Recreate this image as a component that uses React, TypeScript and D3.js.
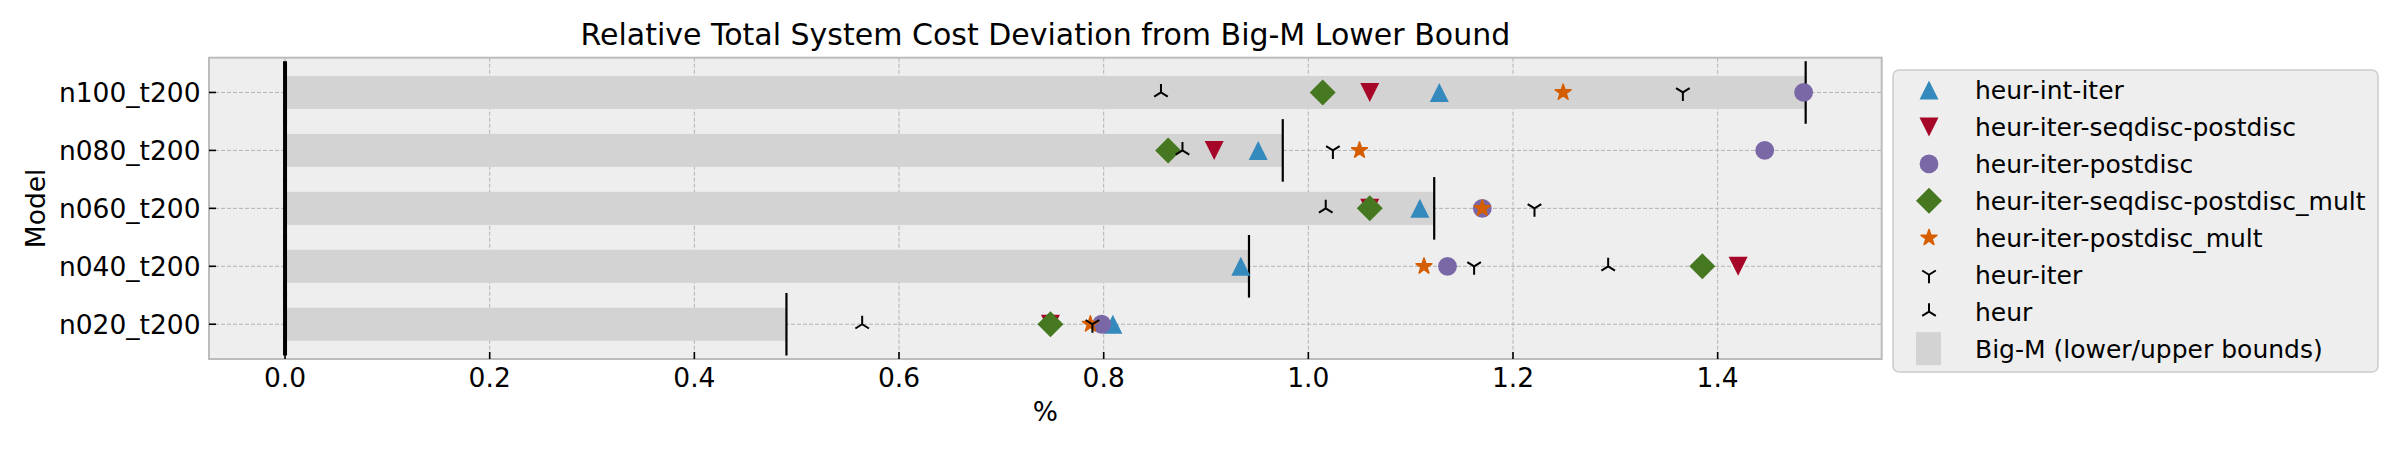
import React, { useEffect, useRef } from 'react';
import * as d3 from 'd3';

// rows, bottom to top
const models = ['n020_t200', 'n040_t200', 'n060_t200', 'n080_t200', 'n100_t200'];

// Big-M bounds (%)
const lowerBound = [0, 0, 0, 0, 0];
const upperBound = [0.49, 0.942, 1.123, 0.975, 1.486];

// heuristic deviations (%)
const heurIntIter = [0.809, 0.934, 1.109, 0.951, 1.128];
const heurIterSeqdiscPostdisc = [0.748, 1.42, 1.06, 0.908, 1.06];
const heurIterPostdisc = [0.798, 1.136, 1.17, 1.446, 1.484];
const heurIterSeqdiscPostdiscMult = [0.748, 1.385, 1.06, 0.863, 1.014];
const heurIterPostdiscMult = [0.787, 1.113, 1.17, 1.05, 1.249];
const heurIter = [0.789, 1.162, 1.221, 1.024, 1.366];
const heur = [0.564, 1.293, 1.017, 0.877, 0.856];

const xTicks = [0, 0.2, 0.4, 0.6, 0.8, 1.0, 1.2, 1.4];

const series = [
  { label: 'heur-int-iter', values: heurIntIter, marker: 'triUp', color: '#348ABD' },
  { label: 'heur-iter-seqdisc-postdisc', values: heurIterSeqdiscPostdisc, marker: 'triDown', color: '#A60628' },
  { label: 'heur-iter-postdisc', values: heurIterPostdisc, marker: 'circle', color: '#7A68A6' },
  { label: 'heur-iter-seqdisc-postdisc_mult', values: heurIterSeqdiscPostdiscMult, marker: 'diamond', color: '#467821' },
  { label: 'heur-iter-postdisc_mult', values: heurIterPostdiscMult, marker: 'star', color: '#D55E00' },
  { label: 'heur-iter', values: heurIter, marker: 'y', color: '#000000' },
  { label: 'heur', values: heur, marker: 'lambda', color: '#000000' },
];

const FONT = 'DejaVu Sans, sans-serif';

// marker outlines centred on (0, 0)
function markerPath(kind: string): string {
  const s = 9.5;
  if (kind === 'triUp') return `M0,${-s}L${-s},${s}L${s},${s}Z`;
  if (kind === 'triDown') return `M0,${s}L${-s},${-s}L${s},${-s}Z`;
  if (kind === 'circle') {
    const p = d3.path();
    p.arc(0, 0, 9.4, 0, 2 * Math.PI);
    return p.toString();
  }
  if (kind === 'diamond') {
    const d = 13;
    return `M0,${-d}L${d},0L0,${d}L${-d},0Z`;
  }
  if (kind === 'star') {
    const R = 8.3;
    const r = R * 0.381966;
    const pts: string[] = [];
    for (let i = 0; i < 10; i++) {
      const a = -Math.PI / 2 + (i * Math.PI) / 5;
      const rad = i % 2 === 0 ? R : r;
      pts.push(`${(rad * Math.cos(a)).toFixed(2)},${(rad * Math.sin(a)).toFixed(2)}`);
    }
    return 'M' + pts.join('L') + 'Z';
  }
  const t = 8.5;
  if (kind === 'y') return `M0,0L0,${t}M0,0L${0.8 * t},${-0.5 * t}M0,0L${-0.8 * t},${-0.5 * t}`;
  // lambda-like tri_up
  return `M0,0L0,${-t}M0,0L${0.8 * t},${0.5 * t}M0,0L${-0.8 * t},${0.5 * t}`;
}

function drawMarker(g: any, kind: string, color: string) {
  const stroked = kind === 'y' || kind === 'lambda';
  g.append('path')
    .attr('d', markerPath(kind))
    .attr('fill', stroked ? 'none' : color)
    .attr('stroke', color)
    .attr('stroke-linejoin', 'round')
    .attr('stroke-width', stroked ? 2 : kind === 'star' ? 1.6 : 0);
}

const App = () => {
  const ref = useRef<SVGSVGElement>(null);

  useEffect(() => {
    const svg = d3.select(ref.current);
    svg.selectAll('*').remove();

    const left = 209;
    const right = 1881.7;
    const top = 57.7;
    const bottom = 359;

    const allValues = [...upperBound, ...lowerBound, ...series.flatMap((s) => s.values)];
    const xMax = d3.max(allValues) as number;
    const xMin = d3.min(allValues) as number;
    const pad = (xMax - xMin) * 0.05;

    const x = d3.scaleLinear().domain([xMin - pad, xMax + pad]).range([left, right]);
    const y = d3.scaleLinear().domain([-0.6, models.length - 0.4]).range([bottom, top]);
    const rowH = y(0) - y(1);

    // axes background
    svg.append('rect')
      .attr('x', left).attr('y', top)
      .attr('width', right - left).attr('height', bottom - top)
      .attr('fill', '#eeeeee');

    // grid
    const grid = svg.append('g').attr('stroke', '#b2b2b2').attr('stroke-width', 1).attr('stroke-dasharray', '4,2');
    grid.selectAll('.gx').data(xTicks).enter().append('line')
      .attr('x1', (d) => x(d)).attr('x2', (d) => x(d))
      .attr('y1', top).attr('y2', bottom);
    grid.selectAll('.gy').data(models).enter().append('line')
      .attr('x1', left).attr('x2', right)
      .attr('y1', (_d, i) => y(i)).attr('y2', (_d, i) => y(i));

    // Big-M bars
    svg.append('g').selectAll('rect').data(models).enter().append('rect')
      .attr('x', (_d, i) => x(lowerBound[i]))
      .attr('width', (_d, i) => x(upperBound[i]) - x(lowerBound[i]))
      .attr('y', (_d, i) => y(i) - rowH * 0.285)
      .attr('height', rowH * 0.57)
      .attr('fill', '#d3d3d3');

    // bound lines (lower bounds overlap into one heavy line)
    const bounds = svg.append('g').attr('stroke', '#000');
    [
      { b: lowerBound, w: 4 },
      { b: upperBound, w: 2.2 },
    ].forEach(({ b, w }) => {
      bounds.selectAll(null).data(b).enter().append('line')
        .attr('stroke-width', w)
        .attr('x1', (d) => x(d)).attr('x2', (d) => x(d))
        .attr('y1', (_d, i) => y(i + 0.54)).attr('y2', (_d, i) => y(i - 0.54));
    });

    // heuristic markers
    series.forEach((s) => {
      s.values.forEach((v, i) => {
        const g = svg.append('g').attr('transform', `translate(${x(v)},${y(i)})`);
        drawMarker(g, s.marker, s.color);
      });
    });

    // frame
    svg.append('rect')
      .attr('x', left).attr('y', top)
      .attr('width', right - left).attr('height', bottom - top)
      .attr('fill', 'none').attr('stroke', '#bcbcbc').attr('stroke-width', 2);

    // ticks (inward)
    const ticks = svg.append('g').attr('stroke', '#000').attr('stroke-width', 1.6);
    ticks.selectAll('.tx').data(xTicks).enter().append('line')
      .attr('x1', (d) => x(d)).attr('x2', (d) => x(d))
      .attr('y1', bottom).attr('y2', bottom - 7);
    ticks.selectAll('.ty').data(models).enter().append('line')
      .attr('x1', left).attr('x2', left + 7)
      .attr('y1', (_d, i) => y(i)).attr('y2', (_d, i) => y(i));

    const labels = svg.append('g').attr('font-family', FONT).attr('fill', '#000');
    labels.selectAll('.lx').data(xTicks).enter().append('text')
      .attr('x', (d) => x(d)).attr('y', 387)
      .attr('text-anchor', 'middle').attr('font-size', 26.5)
      .text((d) => d.toFixed(1));
    labels.selectAll('.ly').data(models).enter().append('text')
      .attr('x', 200.5).attr('y', (_d, i) => y(i) + 9.5)
      .attr('text-anchor', 'end').attr('font-size', 26.5)
      .text((d) => d);

    labels.append('text')
      .attr('x', (left + right) / 2).attr('y', 421)
      .attr('text-anchor', 'middle').attr('font-size', 26.5)
      .text('%');
    labels.append('text')
      .attr('transform', `translate(45,${(top + bottom) / 2}) rotate(-90)`)
      .attr('text-anchor', 'middle').attr('font-size', 26.5)
      .text('Model');
    labels.append('text')
      .attr('x', (left + right) / 2).attr('y', 45)
      .attr('text-anchor', 'middle').attr('font-size', 30)
      .text('Relative Total System Cost Deviation from Big-M Lower Bound');

    // legend
    const legend = svg.append('g');
    legend.append('rect')
      .attr('x', 1893).attr('y', 70).attr('width', 485).attr('height', 302)
      .attr('rx', 6).attr('fill', '#eeeeee').attr('stroke', '#cccccc').attr('stroke-width', 1.5);
    const entryY = (i: number) => 90 + i * 36.95;
    series.forEach((s, i) => {
      const g = legend.append('g').attr('transform', `translate(1929,${entryY(i)})`);
      drawMarker(g, s.marker, s.color);
      legend.append('text')
        .attr('x', 1975).attr('y', entryY(i) + 9)
        .attr('font-family', FONT).attr('font-size', 25)
        .text(s.label);
    });
    const bi = series.length;
    legend.append('rect')
      .attr('x', 1916).attr('y', entryY(bi) - 16.5).attr('width', 25).attr('height', 33)
      .attr('fill', '#d3d3d3');
    legend.append('text')
      .attr('x', 1975).attr('y', entryY(bi) + 9)
      .attr('font-family', FONT).attr('font-size', 25)
      .text('Big-M (lower/upper bounds)');
  }, []);

  return (
    <svg
      ref={ref}
      width={2400}
      height={450}
      style={{ position: 'absolute', left: 0, top: 0, background: '#ffffff' }}
    />
  );
};

export default App;
